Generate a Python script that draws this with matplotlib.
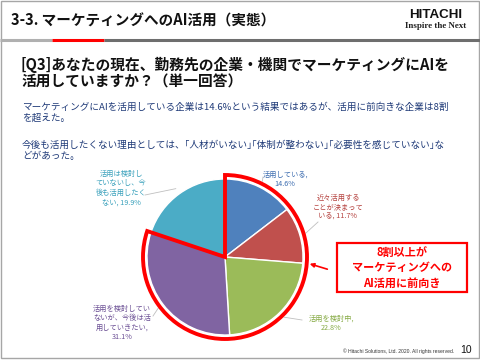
import numpy as np
import matplotlib
matplotlib.use("Agg")
import matplotlib.pyplot as plt
from matplotlib.patches import Wedge, Rectangle

plt.rcParams['font.family'] = ['Noto Sans CJK JP', 'DejaVu Sans']

# Data
categories = ["活用している", "近々活用する\nことが決まって\nいる",
              "活用を検討中", "活用を検討してい\nないが、今後は活\n用していきたい",
              "活用は検討し\nていないし、今\n後も活用したく\nない"]
values = [14.6, 11.7, 22.8, 31.1, 19.9]
value_sep = [",\n", ", ", ",\n", ",\n", ", "]
colors = ['#4F81BD', '#C0504D', '#9BBB59', '#8064A2', '#4BACC6']
text_colors = ['#3D6DB0', '#B5423F', '#86AA44', '#6B4F94', '#38A0BB']
positive_count = 4  # first four slices are "前向き"

title = "3-3. マーケティングへのAI活用（実態）"
question = ["[Q3]あなたの現在、勤務先の企業・機関でマーケティングにAIを",
            "活用していますか？（単一回答）"]
body = ["マーケティングにAIを活用している企業は14.6%という結果ではあるが、活用に前向きな企業は8割",
        "を超えた。",
        "今後も活用したくない理由としては、｢人材がいない｣｢体制が整わない｣｢必要性を感じていない｣な",
        "どがあった。"]
callout = "8割以上が\nマーケティングへの\nAI活用に前向き"

# Layout (pixels, y from top)
W, H = 480, 360
cx, cy, R = 225, 257, 78
label_pos = [(285, 179), (338, 207), (331, 323), (122, 323), (121, 188)]
leader_end = [(263, 177), (318, 222), (302, 320), (153, 316), (145, 195)]

fig = plt.figure(figsize=(4.8, 3.6), dpi=100)
fig.patch.set_facecolor('white')
ax = fig.add_axes([0, 0, 1, 1])
ax.set_xlim(0, W)
ax.set_ylim(H, 0)
ax.axis('off')

# Slide frame
ax.add_patch(Rectangle((0.5, 0.5), W - 1.5, H - 2.5, fill=False, ec='#A6A6A6', lw=1))

# Header
ax.text(11, 21, title, fontsize=10.5, fontweight='bold', color='#111111', va='center', ha='left')
ax.text(436, 15, "HITACHI", fontsize=9.6, fontweight='bold', family='Liberation Sans',
        color='#111111', ha='center', va='center')
ax.text(436, 26, "Inspire the Next", fontsize=6.5, fontweight='bold', family='Liberation Serif',
        color='#222222', ha='center', va='center')
ax.plot([0, 52], [40, 40], color='#B0B0B0', lw=2.2, solid_capstyle='butt')
ax.plot([52, 104], [40, 40], color='#FF0000', lw=2.2, solid_capstyle='butt')
ax.plot([104, W], [40, 40], color='#6E6E6E', lw=2.2, solid_capstyle='butt')

# Question
for i, line in enumerate(question):
    ax.text(21, 65 + 17 * i, line, fontsize=10.6, fontweight='bold', color='#111111',
            va='center', ha='left')

# Body text
body_y = [107, 118, 145, 156]
for y, line in zip(body_y, body):
    ax.text(22, y, line, fontsize=6.9, color='#1F3A78', va='center', ha='left')

# Pie
pie_size = 2.5 * R
ax_pie = fig.add_axes([(cx - pie_size / 2) / W, (H - cy - pie_size / 2) / H,
                       pie_size / W, pie_size / H])
ax_pie.pie(values, colors=colors, startangle=90, counterclock=False,
           wedgeprops=dict(edgecolor='white', linewidth=1))
ax_pie.set_xlim(-1.25, 1.25)
ax_pie.set_ylim(-1.25, 1.25)
ax_pie.axis('off')

# Red outline around the positive share
frac = sum(values[:positive_count]) / sum(values)
ax_pie.add_patch(Wedge((0, 0), 82 / R, 90 - 360 * frac, 90, fill=False,
                       ec='#FF0000', lw=2.8, joinstyle='miter', clip_on=False))

# Slice labels with leader lines
total = sum(values)
cum = np.cumsum([0] + values[:-1])
for i, (cat, val) in enumerate(zip(categories, values)):
    mid = np.deg2rad(90 - 360 * (cum[i] + val / 2) / total)
    px = cx + 1.08 * R * np.cos(mid)
    py = cy - 1.08 * R * np.sin(mid)
    ex, ey = leader_end[i]
    ax.plot([px, ex], [py, ey], color='#BFBFBF', lw=0.6)
    lx, ly = label_pos[i]
    ax.text(lx, ly, f"{cat}{value_sep[i]}{val}%", fontsize=5.2, color=text_colors[i],
            ha='center', va='center', linespacing=1.25)

# Callout
ax.add_patch(Rectangle((337, 243), 130, 49, fill=False, ec='#FF0000', lw=1.6))
ax.text(402, 268, callout, fontsize=8, fontweight='bold', color='#FF0000',
        ha='center', va='center', linespacing=1.2)
ax.annotate('', xy=(307, 263), xytext=(330, 270),
            arrowprops=dict(arrowstyle='-|>', color='#FF0000', lw=1.2, mutation_scale=6))

# Footer
ax.text(454, 351, "© Hitachi Solutions, Ltd. 2020. All rights reserved.", fontsize=3.6,
        family='Liberation Sans', color='#333333', ha='right', va='center')
ax.text(472, 350, "10", fontsize=7.5, family='Liberation Sans', color='#111111',
        ha='right', va='center')

fig.savefig('out.png', dpi=100, facecolor='white')
